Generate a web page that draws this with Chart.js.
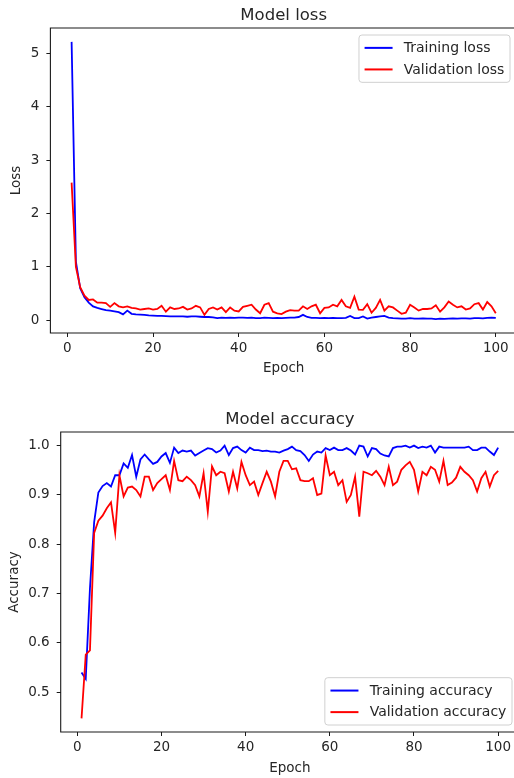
<!DOCTYPE html>
<html><head><meta charset="utf-8">
<script src="https://cdn.jsdelivr.net/npm/chart.js@4/dist/chart.umd.min.js"></script>
<style>
html,body{margin:0;padding:0;background:#fff;overflow:hidden;width:514px;height:778px;}
#c1{position:absolute;left:0;top:0;}
#c2{position:absolute;left:0;top:404px;}
</style></head><body>
<canvas id="c1" width="517" height="380"></canvas>
<canvas id="c2" width="519" height="376"></canvas>
<script>
const epochs = [1,2,3,4,5,6,7,8,9,10,11,12,13,14,15,16,17,18,19,20,21,22,23,24,25,26,27,28,29,30,31,32,33,34,35,36,37,38,39,40,41,42,43,44,45,46,47,48,49,50,51,52,53,54,55,56,57,58,59,60,61,62,63,64,65,66,67,68,69,70,71,72,73,74,75,76,77,78,79,80,81,82,83,84,85,86,87,88,89,90,91,92,93,94,95,96,97,98,99,100];

const trainLoss = [5.22,1.10,0.60,0.43,0.33,0.26,0.23,0.21,0.19,0.18,
  0.165,0.15,0.11,0.18,0.12,0.11,0.105,0.10,0.09,0.085,
  0.08,0.08,0.075,0.07,0.07,0.07,0.07,0.065,0.07,0.07,
  0.065,0.06,0.06,0.055,0.04,0.05,0.045,0.05,0.045,0.05,
  0.05,0.045,0.05,0.04,0.04,0.05,0.045,0.04,0.045,0.04,
  0.045,0.05,0.05,0.06,0.10,0.06,0.045,0.045,0.04,0.045,
  0.04,0.045,0.04,0.04,0.045,0.08,0.04,0.04,0.07,0.03,
  0.05,0.06,0.07,0.08,0.05,0.04,0.035,0.03,0.03,0.04,
  0.03,0.03,0.035,0.03,0.03,0.02,0.03,0.025,0.03,0.035,
  0.03,0.035,0.035,0.03,0.04,0.04,0.035,0.045,0.05,0.045];

const valLoss = [2.58,1.00,0.62,0.46,0.38,0.39,0.33,0.33,0.32,0.25,
  0.32,0.26,0.24,0.26,0.23,0.22,0.20,0.21,0.22,0.20,
  0.21,0.27,0.16,0.24,0.21,0.22,0.25,0.20,0.22,0.27,
  0.24,0.10,0.21,0.24,0.20,0.24,0.15,0.24,0.18,0.165,
  0.25,0.27,0.29,0.20,0.13,0.29,0.32,0.16,0.13,0.115,
  0.16,0.19,0.18,0.18,0.26,0.21,0.26,0.29,0.13,0.23,
  0.24,0.29,0.26,0.38,0.26,0.23,0.44,0.20,0.195,0.30,
  0.14,0.23,0.38,0.18,0.26,0.24,0.18,0.12,0.14,0.29,
  0.24,0.18,0.21,0.21,0.22,0.28,0.16,0.24,0.35,0.29,
  0.24,0.26,0.20,0.22,0.30,0.32,0.20,0.34,0.26,0.13];

const trainAcc = [0.540,0.527,0.710,0.845,0.905,0.918,0.924,0.917,0.940,0.940,
  0.964,0.955,0.981,0.937,0.972,0.982,0.972,0.963,0.967,0.978,
  0.985,0.965,0.996,0.985,0.990,0.988,0.990,0.980,0.985,0.990,
  0.995,0.993,0.986,0.990,1.000,0.981,0.995,0.998,0.991,0.986,
  0.996,0.991,0.991,0.989,0.990,0.988,0.988,0.986,0.990,0.993,
  0.998,0.991,0.989,0.981,0.969,0.982,0.988,0.986,0.995,0.991,
  0.996,0.991,0.991,0.995,0.990,0.982,1.000,0.998,0.978,0.995,
  0.993,0.984,0.980,0.978,0.995,0.998,0.998,1.000,0.996,1.000,
  0.995,0.998,0.996,1.000,0.986,0.998,0.996,0.996,0.996,0.996,
  0.996,0.996,0.998,0.991,0.991,0.996,0.996,0.988,0.981,0.996];

const valAcc = [0.447,0.576,0.585,0.823,0.848,0.858,0.873,0.885,0.823,0.940,
  0.897,0.915,0.917,0.910,0.897,0.937,0.937,0.910,0.924,0.932,
  0.940,0.910,0.969,0.930,0.928,0.937,0.930,0.920,0.897,0.944,
  0.866,0.958,0.940,0.947,0.944,0.907,0.947,0.913,0.967,0.940,
  0.920,0.927,0.900,0.924,0.947,0.927,0.897,0.947,0.969,0.969,
  0.952,0.954,0.930,0.928,0.928,0.934,0.900,0.903,0.980,0.940,
  0.947,0.920,0.930,0.886,0.900,0.937,0.856,0.947,0.944,0.940,
  0.949,0.937,0.920,0.957,0.920,0.927,0.951,0.960,0.967,0.951,
  0.907,0.947,0.940,0.957,0.951,0.927,0.969,0.920,0.925,0.935,
  0.957,0.947,0.940,0.930,0.907,0.934,0.947,0.917,0.940,0.949];

const epochTicks = [0,20,40,60,80,100];
const lossTicks = [0,1,2,3,4,5];
const accTicks = [0.5,0.6,0.7,0.8,0.9,1.0];

const FONT = 'DejaVu Sans';
const TXT = '#262626';

function padRange(arrs){
  let lo = Infinity, hi = -Infinity;
  arrs.forEach(a => a.forEach(v => { lo = Math.min(lo, v); hi = Math.max(hi, v); }));
  const p = (hi - lo) * 0.05;
  return [lo - p, hi + p];
}

const framePlugin = {
  id: 'frame',
  afterDatasetsDraw(chart){
    const {ctx, chartArea: a} = chart;
    ctx.save();
    ctx.strokeStyle = '#1a1a1a';
    ctx.lineWidth = 1.1;
    ctx.beginPath();
    ctx.moveTo(chart.width + 2, a.top);
    ctx.lineTo(a.left, a.top);
    ctx.lineTo(a.left, a.bottom);
    ctx.lineTo(chart.width + 2, a.bottom);
    ctx.stroke();
    ctx.restore();
  }
};

const axTitlePlugin = {
  id: 'axTitle',
  afterDraw(chart, args, opts){
    const {ctx, chartArea: a} = chart;
    ctx.save();
    ctx.font = opts.size + 'px "' + FONT + '"';
    ctx.fillStyle = TXT;
    ctx.textAlign = 'center';
    ctx.textBaseline = 'alphabetic';
    ctx.fillText(opts.text, (a.left + a.right) / 2, a.top - 8);
    ctx.restore();
  }
};

const boxLegendPlugin = {
  id: 'boxLegend',
  afterDraw(chart, args, opts){
    const {ctx, chartArea: a} = chart;
    const fs = opts.size;
    const pad = 0.4 * fs, handle = 2 * fs, htp = 0.8 * fs, spacing = 0.5 * fs, axPad = 0.5 * fs;
    const rowH = 1.04 * fs;
    ctx.save();
    ctx.font = fs + 'px "' + FONT + '"';
    const ds = chart.data.datasets;
    let tw = 0;
    ds.forEach(d => { tw = Math.max(tw, ctx.measureText(d.label).width); });
    const w = pad + handle + htp + tw + pad;
    const h = 2 * pad + ds.length * rowH + (ds.length - 1) * spacing;
    const x = a.right - axPad - w;
    const y = opts.corner === 'upper' ? a.top + axPad : a.bottom - axPad - h;
    ctx.beginPath();
    ctx.roundRect(x, y, w, h, 3);
    ctx.fillStyle = 'rgba(255,255,255,0.8)';
    ctx.fill();
    ctx.strokeStyle = '#d0d0d0';
    ctx.lineWidth = 1;
    ctx.stroke();
    ds.forEach((d, i) => {
      const cy = y + pad + i * (rowH + spacing) + rowH / 2;
      ctx.beginPath();
      ctx.moveTo(x + pad, cy);
      ctx.lineTo(x + pad + handle, cy);
      ctx.strokeStyle = d.borderColor;
      ctx.lineWidth = 2;
      ctx.stroke();
      ctx.fillStyle = TXT;
      ctx.textAlign = 'left';
      ctx.textBaseline = 'middle';
      ctx.fillText(d.label, x + pad + handle + htp, cy + 0.5);
    });
    ctx.restore();
  }
};

function makeChart(id, cfg){
  const [ymin, ymax] = padRange([cfg.a, cfg.b]);
  const [xmin, xmax] = padRange([epochs]);
  const tickFont = {family: FONT, size: 13.5};
  return new Chart(document.getElementById(id), {
    type: 'line',
    data: {
      datasets: [
        {label: cfg.la, data: epochs.map((e, i) => ({x: e, y: cfg.a[i]})), borderColor: '#0000ff', borderWidth: 1.8, pointRadius: 0, tension: 0, fill: false, order: 1},
        {label: cfg.lb, data: epochs.map((e, i) => ({x: e, y: cfg.b[i]})), borderColor: '#ff0000', borderWidth: 1.8, pointRadius: 0, tension: 0, fill: false, order: 0}
      ]
    },
    options: {
      responsive: false,
      animation: false,
      devicePixelRatio: 1,
      layout: {padding: {top: 28, left: 0, right: 0, bottom: 0}},
      plugins: {
        legend: {display: false},
        title: {display: false},
        tooltip: {enabled: false},
        axTitle: {text: cfg.title, size: 16.5},
        boxLegend: {corner: cfg.corner, size: 14}
      },
      scales: {
        x: {
          type: 'linear', min: xmin, max: xmax,
          afterBuildTicks: s => { s.ticks = epochTicks.map(v => ({value: v})); },
          afterFit: s => { s.height = cfg.xH; },
          grid: {display: true, drawOnChartArea: false, drawTicks: true, tickLength: 4, tickColor: '#1a1a1a', lineWidth: 1},
          border: {display: false},
          ticks: {padding: 3, color: TXT, font: tickFont, maxRotation: 0, autoSkip: false, callback: v => String(v)},
          title: {display: true, text: 'Epoch', color: TXT, font: tickFont, padding: {top: 0, bottom: 3.9}}
        },
        y: {
          type: 'linear', min: ymin, max: ymax,
          afterBuildTicks: s => { s.ticks = cfg.ticks.map(v => ({value: v})); },
          afterFit: s => { s.width = cfg.yW; },
          grid: {display: true, drawOnChartArea: false, drawTicks: true, tickLength: 4, tickColor: '#1a1a1a', lineWidth: 1},
          border: {display: false},
          ticks: {padding: 7, color: TXT, font: tickFont, autoSkip: false, callback: cfg.fmt},
          title: {display: true, text: cfg.ylabel, color: TXT, font: tickFont, padding: {top: cfg.yTitlePad, bottom: 0}}
        }
      }
    },
    plugins: [framePlugin, axTitlePlugin, boxLegendPlugin]
  });
}

makeChart('c1', {a: trainLoss, b: valLoss, la: 'Training loss', lb: 'Validation loss',
  title: 'Model loss', ylabel: 'Loss', ticks: lossTicks, fmt: v => String(v),
  corner: 'upper', xH: 47, yW: 50.4, yTitlePad: 7.9});
makeChart('c2', {a: trainAcc, b: valAcc, la: 'Training accuracy', lb: 'Validation accuracy',
  title: 'Model accuracy', ylabel: 'Accuracy', ticks: accTicks, fmt: v => v.toFixed(1),
  corner: 'lower', xH: 48, yW: 60.7, yTitlePad: 6.4});
</script>
</body></html>
